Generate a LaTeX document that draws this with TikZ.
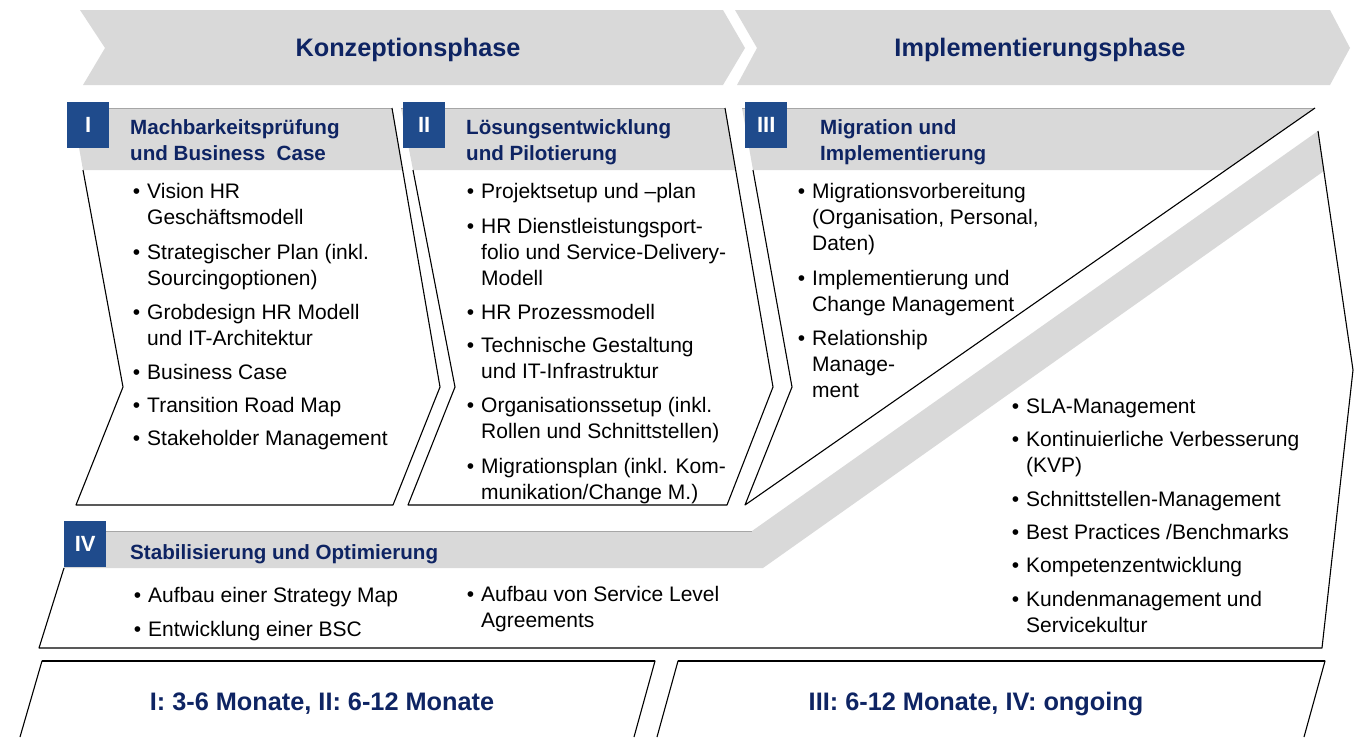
\documentclass[tikz,border=0pt]{standalone}
\usepackage{fontspec}
\setmainfont{Liberation Sans}
\usetikzlibrary{positioning,calc}
\definecolor{kopfgrau}{HTML}{D9D9D9}
\definecolor{randgrau}{HTML}{A6A6A6}
\definecolor{nrblau}{HTML}{1F4B8C}
\definecolor{titelblau}{HTML}{0E2463}
\newcommand{\bul}{\makebox[0pt][r]{\textbullet\hspace{7pt}}}

\begin{document}
\begin{tikzpicture}[x=1pt, y=-1pt, line join=round,
  kopf/.style={fill=kopfgrau},
  oben/.style={draw=randgrau, line width=1pt},
  rahmen/.style={draw=black, line width=1.1pt},
  nummer/.style={fill=nrblau, text=white, font=\fontsize{22}{22}\selectfont\bfseries,
    minimum width=42pt, minimum height=46pt, inner sep=0pt, anchor=north west},
  titel/.style={text=titelblau, font=\fontsize{20.6}{26}\selectfont\bfseries,
    align=left, anchor=base west, inner sep=0pt},
  punkt/.style={font=\fontsize{21}{26}\selectfont, align=left, anchor=base west, inner sep=0pt},
  phase/.style={text=titelblau, font=\fontsize{25.3}{25}\selectfont\bfseries, inner sep=0pt}]
  \useasboundingbox (0,0) rectangle (1355,737);

  % phasen
  \fill[kopfgrau] (80,10) -- (723,10) -- (745,48) -- (723,85) -- (83,85) -- (105,48) -- cycle;
  \fill[kopfgrau] (735,10) -- (1330,10) -- (1350,48) -- (1330,85) -- (737,85) -- (757,48) -- cycle;
  \node[phase] (konz) at (408,50) {Konzeptionsphase};
  \node[phase] (impl) at (1040,50) {Implementierungsphase};

  % kasten I
  \fill[kopf] (72,108) -- (392,108) -- (403,170) -- (83,170) -- cycle;
  \draw[oben] (72,108) -- (392,108);
  \draw[rahmen] (392,108) -- (440,387) -- (393,505) -- (76,505) -- (123,387) -- (83,170);

  % kasten II
  \fill[kopf] (401,108) -- (725,108) -- (736,170) -- (413,170) -- cycle;
  \draw[oben] (401,108) -- (725,108);
  \draw[rahmen] (725,108) -- (773,387) -- (727,505) -- (408,505) -- (455,387) -- (413,170);

  % kasten III
  \fill[kopf] (742,108) -- (1315,108) -- (1226,170) -- (753,170) -- cycle;
  \draw[oben] (742,108) -- (1315,108);
  \draw[rahmen] (1315,108) -- (745,505) -- (792,387) -- (753,170);

  % kasten IV
  \fill[kopf] (76,531) -- (752,531) -- (1318,131) -- (1324,171) -- (763,568) -- (64,568) -- cycle;
  \draw[oben] (76,531) -- (752,531);
  \draw[rahmen] (1318,131) -- (1353,370) -- (1322,648) -- (39,648) -- (64,568);

  % dauer
  \draw[rahmen] (20,737) -- (42,661) -- (655,661) -- (634,737);
  \draw[rahmen] (657,737) -- (678,661) -- (1325,661) -- (1304,737);
  \draw[line width=1.6pt] (42,661) -- (655,661) (678,661) -- (1325,661);
  \node[phase] (dauer1) at (322,704) {I: 3-6 Monate, II: 6-12 Monate};
  \node[phase] (dauer2) at (976,704) {III: 6-12 Monate, IV: ongoing};

  % nummern
  \node[nummer] (n1) at (67,102) {I};
  \node[nummer] (n2) at (403,102) {II};
  \node[nummer] (n3) at (745,102) {III};
  \node[nummer] (n4) at (64,521) {IV};

  % titel (y = grundlinie der letzten zeile)
  \node[titel] (t1) at (130,160) {Machbarkeitsprüfung\\und Business\ \ Case};
  \node[titel] (t2) at (466,160) {Lösungsentwicklung\\und Pilotierung};
  \node[titel] (t3) at (820,160) {Migration und\\Implementierung};
  \node[titel] (t4) at (130,559) {Stabilisierung und Optimierung};

  % punkte I
  \node[punkt] (p11) at (147,224) {\bul Vision HR\\Geschäftsmodell};
  \node[punkt] (p12) at (147,285) {\bul Strategischer Plan (inkl.\\Sourcingoptionen)};
  \node[punkt] (p13) at (147,345) {\bul Grobdesign HR Modell\\und IT-Architektur};
  \node[punkt] (p14) at (147,379) {\bul Business Case};
  \node[punkt] (p15) at (147,412) {\bul Transition Road Map};
  \node[punkt] (p16) at (147,445) {\bul Stakeholder Management};

  % punkte II
  \node[punkt] (p21) at (481,198) {\bul Projektsetup und –plan};
  \node[punkt] (p22) at (481,285) {\bul HR Dienstleistungsport-\\folio und Service-Delivery-\\Modell};
  \node[punkt] (p23) at (481,319) {\bul HR Prozessmodell};
  \node[punkt] (p24) at (481,378) {\bul Technische Gestaltung\\und IT-Infrastruktur};
  \node[punkt] (p25) at (481,438) {\bul Organisationssetup (inkl.\\Rollen und Schnittstellen)};
  \node[punkt] (p26) at (481,499) {\bul Migrationsplan (inkl. Kom-\\munikation/Change M.)};

  % punkte III
  \node[punkt] (p31) at (812,250) {\bul Migrationsvorbereitung\\(Organisation, Personal,\\Daten)};
  \node[punkt] (p32) at (812,311) {\bul Implementierung und\\Change Management};
  \node[punkt] (p33) at (812,397) {\bul Relationship\\Manage-\\ment};

  % punkte IV
  \node[punkt] (p41) at (148,602) {\bul Aufbau einer Strategy Map};
  \node[punkt] (p42) at (148,636) {\bul Entwicklung einer BSC};
  \node[punkt] (p43) at (481,627) {\bul Aufbau von Service Level\\Agreements};
  \node[punkt] (p44) at (1026,413) {\bul SLA-Management};
  \node[punkt] (p45) at (1026,472) {\bul Kontinuierliche Verbesserung\\(KVP)};
  \node[punkt] (p46) at (1026,506) {\bul Schnittstellen-Management};
  \node[punkt] (p47) at (1026,539) {\bul Best Practices /Benchmarks};
  \node[punkt] (p48) at (1026,572) {\bul Kompetenzentwicklung};
  \node[punkt] (p49) at (1026,632) {\bul Kundenmanagement und\\Servicekultur};
\end{tikzpicture}
\end{document}
